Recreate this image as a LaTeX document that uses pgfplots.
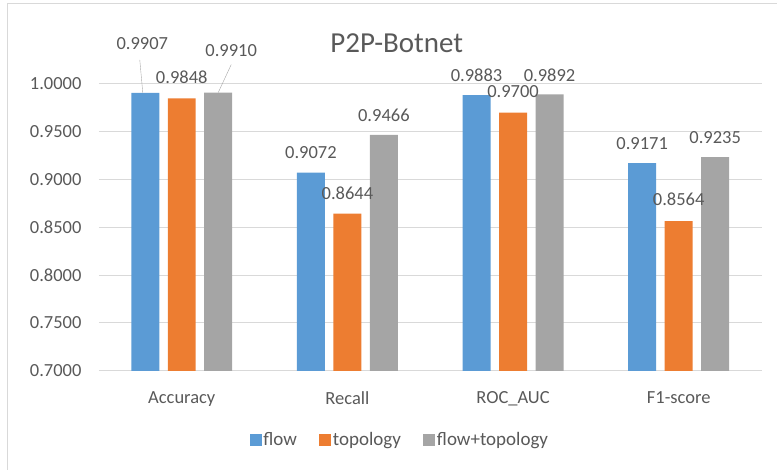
\documentclass[border=0pt]{standalone}
\usepackage{pgfplots}
\pgfplotsset{compat=1.18}
\usepackage{pgfplotstable}
\usepackage{fontspec}
\setmainfont{Carlito}
\definecolor{cblue}{HTML}{5B9BD5}
\definecolor{corange}{HTML}{ED7D31}
\definecolor{cgray}{HTML}{A5A5A5}
\definecolor{txt}{HTML}{595959}
\definecolor{gridc}{HTML}{D9D9D9}
\definecolor{leader}{HTML}{A6A6A6}
\newcommand\fs{\fontsize{18.5}{20}\selectfont}

% dx includes the bar shift (in pt)
\pgfplotstableread{
x y dx dy
0 0.9907 -39.5 49
1 0.9072 -36.5 20
2 0.9883 -36.5 20
3 0.9171 -36.5 20
}\flowtab
\pgfplotstableread{
x y dx dy
0 0.9848 0 21
1 0.8644 0 20
2 0.9700 0 21
3 0.8564 0 22
}\topotab
\pgfplotstableread{
x y dx dy
0 0.9910 49.5 42
1 0.9466 36.5 20
2 0.9892 36.5 19
3 0.9235 36.5 20
}\bothtab

\begin{document}
\begin{tikzpicture}[x=1pt,y=1pt]
\path (0,0) rectangle (777,470);
\draw[gridc, line width=1pt] (8,0) -- (8,466) -- (777,466);
\node[font=\fontsize{29}{32}\selectfont, text=txt] at (397,427) {P2P-Botnet};
\begin{axis}[
  at={(99pt,99pt)}, anchor=south west,
  scale only axis, width=663pt, height=287pt,
  xmin=-0.5, xmax=3.5, ymin=0.7, ymax=1.0,
  clip=false,
  axis line style={draw=none},
  major tick length=0pt,
  ymajorgrids, grid style={gridc, line width=1pt},
  ytick={0.7,0.75,0.8,0.85,0.9,0.95,1.0},
  yticklabel style={font=\fs, text=txt, xshift=-14pt,
     /pgf/number format/.cd, fixed, fixed zerofill, precision=4, assume math mode=true},
  xtick={0,1,2,3},
  xticklabels={Accuracy,Recall,ROC\_AUC,F1-score},
  xticklabel style={font=\fs, text=txt, yshift=-17pt},
  point meta=explicit,
  nodes near coords={\pgfmathprintnumber[fixed,fixed zerofill,precision=4,assume math mode=true]{\pgfplotspointmeta}},
  visualization depends on={\thisrow{dx} \as \dx},
  visualization depends on={\thisrow{dy} \as \dy},
  nodes near coords style={anchor=center, font=\fs, text=txt, xshift=\dx pt, yshift=\dy pt},
  legend style={at={(axis description cs:0.454,-0.24)}, anchor=center, draw=none,
     legend columns=3, font=\fontsize{19}{21}\selectfont, text=txt, nodes={inner sep=1.5pt},
     /tikz/every even column/.append style={column sep=21pt}},
  legend image code/.code={\fill[#1] (0pt,-6pt) rectangle (12pt,6pt);},
]
\addplot[ybar, bar width=28pt, bar shift=-36.5pt, fill=cblue, draw=none] table[x=x,y=y,meta=y] {\flowtab};
\addlegendentry{flow}
\addplot[ybar, bar width=28pt, bar shift=0pt, fill=corange, draw=none] table[x=x,y=y,meta=y] {\topotab};
\addlegendentry{topology}
\addplot[ybar, bar width=28pt, bar shift=36.5pt, fill=cgray, draw=none] table[x=x,y=y,meta=y] {\bothtab};
\addlegendentry{flow+topology}
\draw[leader] (axis cs:0,0.9907) ++(-39pt,0pt) -- ++(-3pt,33pt);
\draw[leader] (axis cs:0,0.9910) ++(36.5pt,0pt) -- ++(13pt,28pt);
\end{axis}
\end{tikzpicture}
\end{document}
